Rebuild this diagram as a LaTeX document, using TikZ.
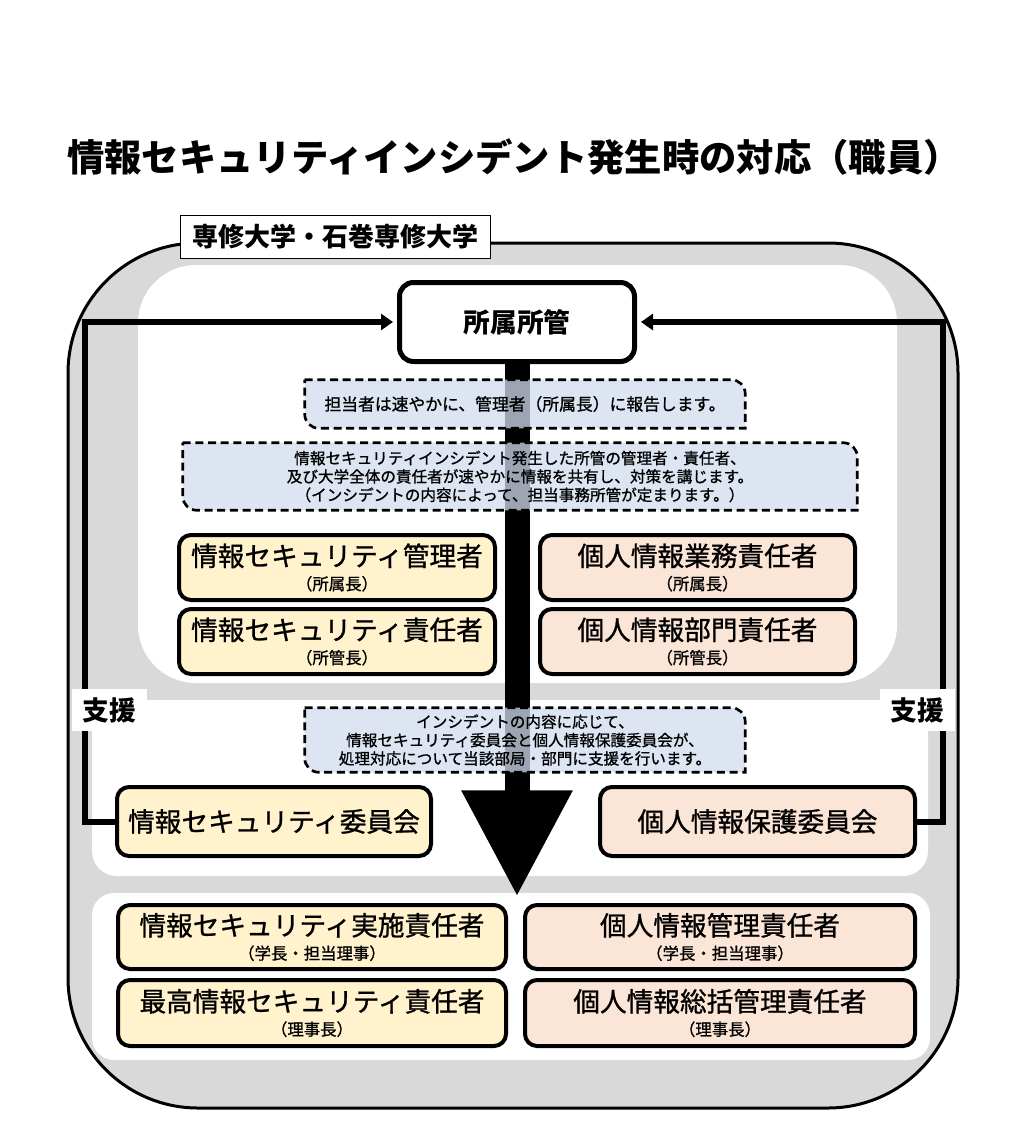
\documentclass[tikz,border=0pt]{standalone}
\usepackage{fontspec}
\setmainfont{Noto Sans CJK JP}
\newfontfamily\medfont{Noto Sans CJK JP}[FakeBold=1]
\usetikzlibrary{arrows.meta,calc}

\definecolor{regiongrey}{RGB}{217,217,217}
\definecolor{secyellow}{RGB}{255,242,204}
\definecolor{pipink}{RGB}{251,229,214}
\definecolor{noteblue}{RGB}{210,220,238}

\pgfdeclarelayer{back}
\pgfdeclarelayer{mid}
\pgfdeclarelayer{notes}
\pgfsetlayers{back,mid,notes,main}

\tikzset{every picture/.style={line width=0.75pt}}
\tikzset{
  secbox/.style={draw, line width=3pt, rounded corners=9pt, fill=secyellow, inner sep=0pt, align=center, font=\medfont\fontsize{20}{22}\selectfont},
  pibox/.style={secbox, fill=pipink},
  notebox/.style={inner sep=0pt, align=center, font=\medfont\fontsize{11.7}{13.8}\selectfont},
  notefill/.style={draw, fill=noteblue, fill opacity=0.75, line width=2pt, dash pattern=on 6pt off 3.5pt},
  supp/.style={line width=4.5pt, -{Triangle[length=9pt,width=12pt]}, shorten >=3pt},
  supplabel/.style={fill=white, inner sep=0pt, minimum width=56.25pt, minimum height=31.5pt, font=\bfseries\fontsize{20}{22}\selectfont},
}

\newcommand{\subline}[1]{\\[-4pt]{\fontsize{12.3}{14}\selectfont #1}}
\newcommand{\notepath}[1]{%
  \path[notefill] (#1.north west) -- ($(#1.north east)+(-14,0)$) arc[start angle=-90,end angle=0,radius=14] -- (#1.south east) -- ($(#1.south west)+(14,0)$) arc[start angle=90,end angle=180,radius=14] -- cycle;}

\begin{document}
\begin{tikzpicture}[x=0.75pt,y=0.75pt,yscale=-1,xscale=1]
\useasboundingbox (0,0) rectangle (1024,1132);

%Shape: Regions
\begin{pgfonlayer}{back}
\draw[fill=regiongrey, line width=2.25pt, rounded corners=97.5pt] (68,243) rectangle (958,1108);
\fill[white, rounded corners=43.5pt] (138,265) rectangle (897,683);
\fill[white, rounded corners=18.75pt] (92,700) rectangle (928,876);
\fill[white, rounded corners=16.5pt] (92,893) rectangle (930,1060);
\end{pgfonlayer}

% Title
\node (title) at (514,157) {\bfseries\fontsize{28}{31}\selectfont 情報セキュリティインシデント発生時の対応（職員）};
\node[draw, fill=white, inner sep=0pt, minimum width=232.5pt, minimum height=32.25pt, font=\bfseries\fontsize{19.5}{22}\selectfont] (campus) at (335,236.5) {専修大学・石巻専修大学};

% Top box
\node[draw, fill=white, line width=3.75pt, rounded corners=10.5pt, minimum width=176.25pt, minimum height=59.25pt, font=\bfseries\fontsize{20}{22}\selectfont] (shozoku) at (517,322) {所属所管};

% Notes
\node[notebox, minimum width=330pt, minimum height=36pt, font=\medfont\fontsize{12.6}{15}\selectfont] (note1) at (525,404) {担当者は速やかに、管理者（所属長）に報告します。};
\node[notebox, minimum width=505.5pt, minimum height=50.25pt] (note2) at (520,476.5) {情報セキュリティインシデント発生した所管の管理者・責任者、\\及び大学全体の責任者が速やかに情報を共有し、対策を講じます。\\（インシデントの内容によって、担当事務所管が定まります。）};
\node[notebox, minimum width=330pt, minimum height=48pt] (note3) at (525,740) {インシデントの内容に応じて、\\情報セキュリティ委員会と個人情報保護委員会が、\\処理対応について当該部局・部門に支援を行います。};

% Department level
\node[secbox, minimum width=237pt, minimum height=48.75pt] (secmgr) at (337,567.5) {情報セキュリティ管理者\subline{（所属長）}};
\node[secbox, minimum width=237pt, minimum height=48.75pt] (secres) at (337,641.5) {情報セキュリティ責任者\subline{（所管長）}};
\node[pibox, minimum width=236.25pt, minimum height=48.75pt] (pibiz) at (697.5,567.5) {個人情報業務責任者\subline{（所属長）}};
\node[pibox, minimum width=236.25pt, minimum height=48.75pt] (pidept) at (697.5,641.5) {個人情報部門責任者\subline{（所管長）}};

% Committees
\node[secbox, minimum width=235.5pt, minimum height=51.75pt] (seccom) at (274,821.5) {情報セキュリティ委員会};
\node[pibox, minimum width=236.25pt, minimum height=51.75pt] (picom) at (757.5,821.5) {個人情報保護委員会};

% University level
\node[secbox, minimum width=291pt, minimum height=48pt] (secexe) at (312,937) {情報セキュリティ実施責任者\subline{（学長・担当理事）}};
\node[secbox, minimum width=291pt, minimum height=49.5pt] (ciso) at (312,1013) {最高情報セキュリティ責任者\subline{（理事長）}};
\node[pibox, minimum width=292.5pt, minimum height=48pt] (pimgr) at (720,937) {個人情報管理責任者\subline{（学長・担当理事）}};
\node[pibox, minimum width=292.5pt, minimum height=49.5pt] (pitop) at (720,1013) {個人情報総括管理責任者\subline{（理事長）}};

% Support labels
\node[supplabel] (suppl) at (109.5,710) {支援};
\node[supplabel] (suppr) at (917,710) {支援};

\coordinate (tip) at (517,897);

%Straight Lines
\begin{pgfonlayer}{mid}
\draw[line width=18.75pt, -{Triangle[length=80pt,width=78pt]}] (shozoku.south) -- (tip);
\draw[supp] (seccom.west) -- ++(-30,0) |- (shozoku.west);
\draw[supp] (picom.east) -- ++(26,0) |- (shozoku.east);
\end{pgfonlayer}

\begin{pgfonlayer}{notes}
\notepath{note1}
\notepath{note2}
\notepath{note3}
\end{pgfonlayer}

\end{tikzpicture}
\end{document}
